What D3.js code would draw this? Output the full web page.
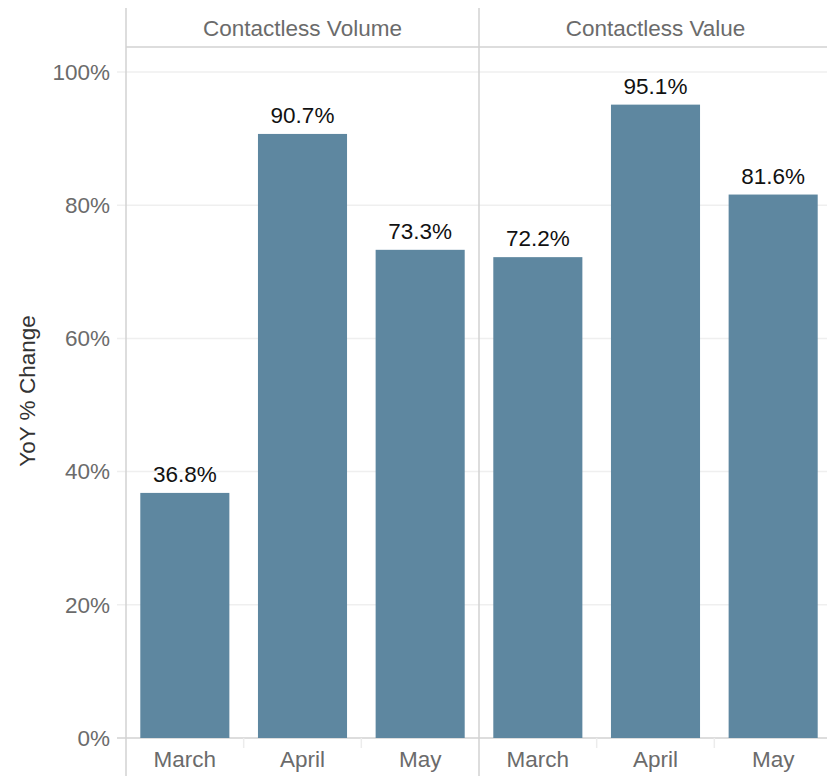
<!DOCTYPE html>
<html><head><meta charset="utf-8">
<script src="https://cdn.jsdelivr.net/npm/d3@7/dist/d3.min.js"></script>
<style>body{margin:0;background:#fff}svg{display:block;font-family:"Liberation Sans",Arial,sans-serif}</style>
</head><body>
<script>
const panels = ["Contactless Volume", "Contactless Value"];
const months = ["March", "April", "May"];
const volumeValues = [36.8, 90.7, 73.3];
const valueValues = [72.2, 95.1, 81.6];
const yTicks = [0, 20, 40, 60, 80, 100];

const seriesByPanel = [volumeValues, valueValues];
const W = 827, H = 776;
const FS = "22.5px";
const svg = d3.select("body").append("svg").attr("width", W).attr("height", H);

const leftX = 126, panelW = 353, topY = 8, headerBottom = 47;
const y = d3.scaleLinear().domain([0, 100]).range([738, 72]);
const panelScale = d3.scaleBand().domain(panels).range([leftX, leftX + panelW * 2]);
const lineCol = "#d2d2d2";

// gridlines
const grid = svg.append("g");
grid.selectAll("line").data(yTicks).join("line")
  .attr("x1", leftX - 9).attr("x2", W)
  .attr("y1", d => y(d)).attr("y2", d => y(d))
  .attr("stroke", d => d === 0 ? lineCol : "#efefef").attr("stroke-width", 1.5);

// y axis labels
const yAxis = d3.axisLeft(y).tickValues(yTicks).tickFormat(d => d + "%").tickSize(0).tickPadding(16);
const ya = svg.append("g").attr("transform", `translate(${leftX},0)`).call(yAxis);
ya.select(".domain").remove();
ya.selectAll("text").attr("fill", "#6b6b6b").style("font-size", FS).style("font-family", "Liberation Sans, Arial, sans-serif");

svg.append("text").attr("transform", `translate(35,391) rotate(-90)`)
  .attr("text-anchor", "middle").attr("fill", "#333").style("font-size", FS).text("YoY % Change");

panels.forEach((p, i) => {
  const x0 = panelScale(p);
  const x = d3.scaleBand().domain(months).range([x0, x0 + panelW]).paddingInner(0.243).paddingOuter(0.1215);
  const g = svg.append("g");
  const vals = seriesByPanel[i];
  g.selectAll("rect").data(months).join("rect")
    .attr("x", d => x(d)).attr("width", x.bandwidth())
    .attr("y", (d, j) => y(vals[j])).attr("height", (d, j) => y(0) - y(vals[j]))
    .attr("fill", "#5e87a0");
  g.selectAll("text.lbl").data(months).join("text").attr("class", "lbl")
    .attr("x", d => x(d) + x.bandwidth() / 2).attr("y", (d, j) => y(vals[j]) - 11)
    .attr("text-anchor", "middle").attr("fill", "#111").style("font-size", FS)
    .text((d, j) => vals[j].toFixed(1) + "%");
  const step = panelW / months.length;
  g.selectAll("text.xl").data(months).join("text").attr("class", "xl")
    .attr("x", d => x(d) + x.bandwidth() / 2).attr("y", 767)
    .attr("text-anchor", "middle").attr("fill", "#6b6b6b").style("font-size", FS).text(d => d);
  g.selectAll("line.sep").data([1, 2]).join("line").attr("class", "sep")
    .attr("x1", k => x0 + step * k).attr("x2", k => x0 + step * k)
    .attr("y1", 738).attr("y2", 748).attr("stroke", "#ececec").attr("stroke-width", 1.5);
  svg.append("text").attr("x", x0 + panelW / 2).attr("y", 36).attr("text-anchor", "middle")
    .attr("fill", "#6b6b6b").style("font-size", FS).text(p);
  svg.append("line").attr("x1", x0).attr("x2", x0).attr("y1", topY).attr("y2", H)
    .attr("stroke", lineCol).attr("stroke-width", 1.5);
});

svg.append("line").attr("x1", leftX).attr("x2", W).attr("y1", headerBottom).attr("y2", headerBottom)
  .attr("stroke", lineCol).attr("stroke-width", 1.5);
</script>
</body></html>
